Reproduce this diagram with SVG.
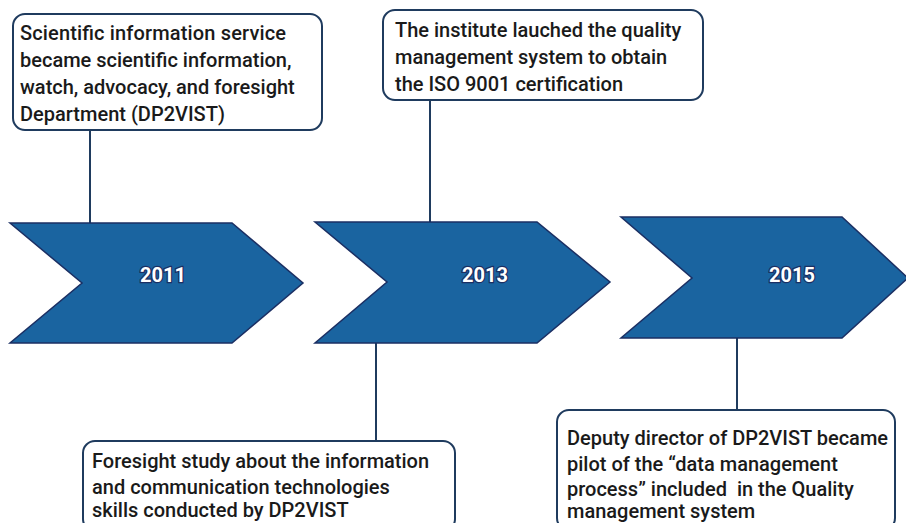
<svg xmlns="http://www.w3.org/2000/svg" width="906" height="523" viewBox="0 0 906 523">
<style>
.box{fill:#ffffff;stroke:#1f3b5e;stroke-width:2}
.chev{fill:#1a64a0;stroke:#1b2f63;stroke-width:1.5}
.conn{stroke:#1f3b5e;stroke-width:2;fill:none}
.t{font-family:Roboto,"Liberation Sans",sans-serif;font-weight:500;font-size:20px;fill:#1a1a1a}
.yr{font-family:Roboto,"Liberation Sans",sans-serif;font-weight:700;font-size:20px;fill:#ffffff;stroke:#1b2f63;stroke-width:2.5;paint-order:stroke;text-anchor:middle}
</style>
<rect width="906" height="523" fill="#ffffff"/>
<g id="connectors">
<line class="conn" x1="90" y1="130" x2="90" y2="223"/>
<line class="conn" x1="430" y1="100" x2="430" y2="222"/>
<line class="conn" x1="376" y1="343" x2="376" y2="441"/>
<line class="conn" x1="737" y1="338" x2="737" y2="410"/>
</g>
<g id="y2011">
<polygon class="chev" points="10,223 232,223 303,283 232,343 10,343 82,283"/>
<text class="yr" x="163" y="282">2011</text>
</g>
<g id="y2013">
<polygon class="chev" points="315,222 537,222 610,282 537,343 315,343 387,282"/>
<text class="yr" x="485" y="282">2013</text>
</g>
<g id="y2015">
<polygon class="chev" points="621,217 842,217 908,278 842,338 621,338 692,278"/>
<text class="yr" x="792" y="282">2015</text>
</g>
<g id="box1">
<rect class="box" x="13" y="14" width="309" height="116" rx="12"/>
<text class="t"><tspan x="20" y="40" textLength="266">Scientific information service</tspan><tspan x="20" y="67">became scientific information,</tspan><tspan x="20" y="94">watch, advocacy, and foresight</tspan><tspan x="20" y="121">Department (DP2VIST)</tspan></text>
</g>
<g id="box2">
<rect class="box" x="383" y="10" width="320" height="90" rx="12"/>
<text class="t"><tspan x="395" y="37">The institute lauched the quality</tspan><tspan x="395" y="64">management system to obtain</tspan><tspan x="395" y="91">the ISO 9001 certification</tspan></text>
</g>
<g id="box3">
<rect class="box" x="83" y="441" width="372" height="90" rx="12"/>
<text class="t"><tspan x="92" y="468">Foresight study about the information</tspan><tspan x="92" y="494">and communication technologies</tspan><tspan x="92" y="517">skills conducted by DP2VIST</tspan></text>
</g>
<g id="box4">
<rect class="box" x="557" y="410" width="338" height="120" rx="12"/>
<text class="t" xml:space="preserve"><tspan x="567" y="445">Deputy director of DP2VIST became</tspan><tspan x="567" y="471">pilot of the “data management</tspan><tspan x="567" y="496">process” included  in the Quality</tspan><tspan x="567" y="518">management system</tspan></text>
</g>
</svg>
